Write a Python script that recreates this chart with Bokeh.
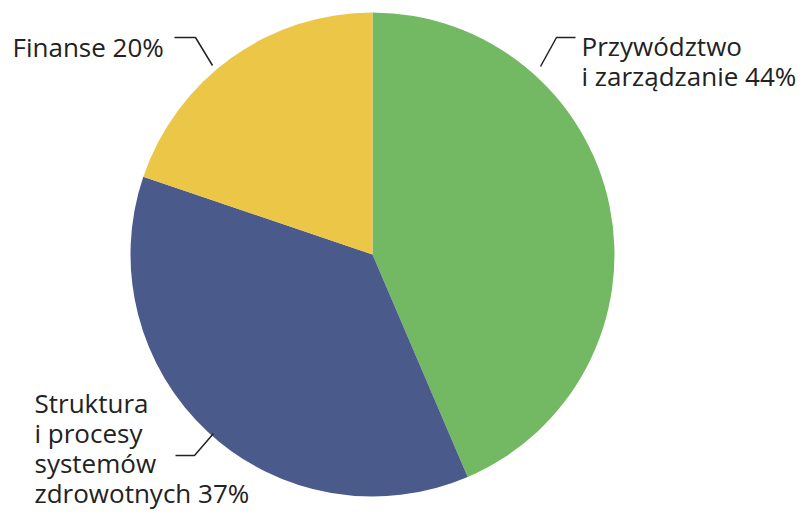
import math
from bokeh.plotting import figure
from bokeh.models import Range1d, ColumnDataSource
from bokeh.core.properties import value
from bokeh.embed import file_html
from bokeh.resources import INLINE

# ---- data ----
categories = ["Przywództwo i zarządzanie", "Struktura i procesy systemów zdrowotnych", "Finanse"]
shares = [44, 37, 20]
colors = ["#73B862", "#4A5A8B", "#ECC646"]
label_lines = [
    ["Przywództwo", "i zarządzanie 44%"],
    ["Struktura", "i procesy", "systemów", "zdrowotnych 37%"],
    ["Finanse 20%"],
]

# ---- layout (reference pixel coordinates) ----
W, H = 799, 511
CX, CY, R = 372, 254, 242
FONT = "Open Sans"
FS = 26
LINE_H = [30, 30, 30]

p = figure(width=W, height=H, output_backend="svg", toolbar_location=None,
           x_range=Range1d(0, W), y_range=Range1d(0, H))
p.axis.visible = False
p.grid.visible = False
p.outline_line_color = None
p.min_border = 0
p.background_fill_color = "white"

def dy(py):
    return H - py  # pixel y -> data y

total = float(sum(shares))
starts, ends = [], []
cum = 0.0
for s in shares:
    starts.append(math.pi / 2 - 2 * math.pi * cum / total)
    cum += s
    ends.append(math.pi / 2 - 2 * math.pi * cum / total)

src = ColumnDataSource(dict(x=[CX] * 3, y=[dy(CY)] * 3, start=starts, end=ends, color=colors))
p.wedge(x="x", y="y", radius=R, start_angle="start", end_angle="end", direction="clock",
        fill_color="color", line_color=None, source=src)

leaders = [
    [(575, 37), (556, 37), (540, 66)],
    [(175, 455), (194, 455), (213, 433)],
    [(174, 37), (195, 37), (212, 65)],
]
for pts in leaders:
    p.line([q[0] for q in pts], [dy(q[1]) for q in pts], line_color="#222222", line_width=1.5)

anchors = [(581, 45), (34, 402), (12, 46)]
tx, tyy, tt = [], [], []
for k, ((ax, ay), lines) in enumerate(zip(anchors, label_lines)):
    for i, ln in enumerate(lines):
        tx.append(ax)
        tyy.append(dy(ay + i * LINE_H[k]))
        tt.append(ln)
p.text(x=tx, y=tyy, text=tt, text_font=value(FONT), text_font_size=f"{FS}px",
       text_color="#222222", text_baseline="alphabetic", text_align="left")

open("out.html", "w").write(file_html(p, INLINE))
